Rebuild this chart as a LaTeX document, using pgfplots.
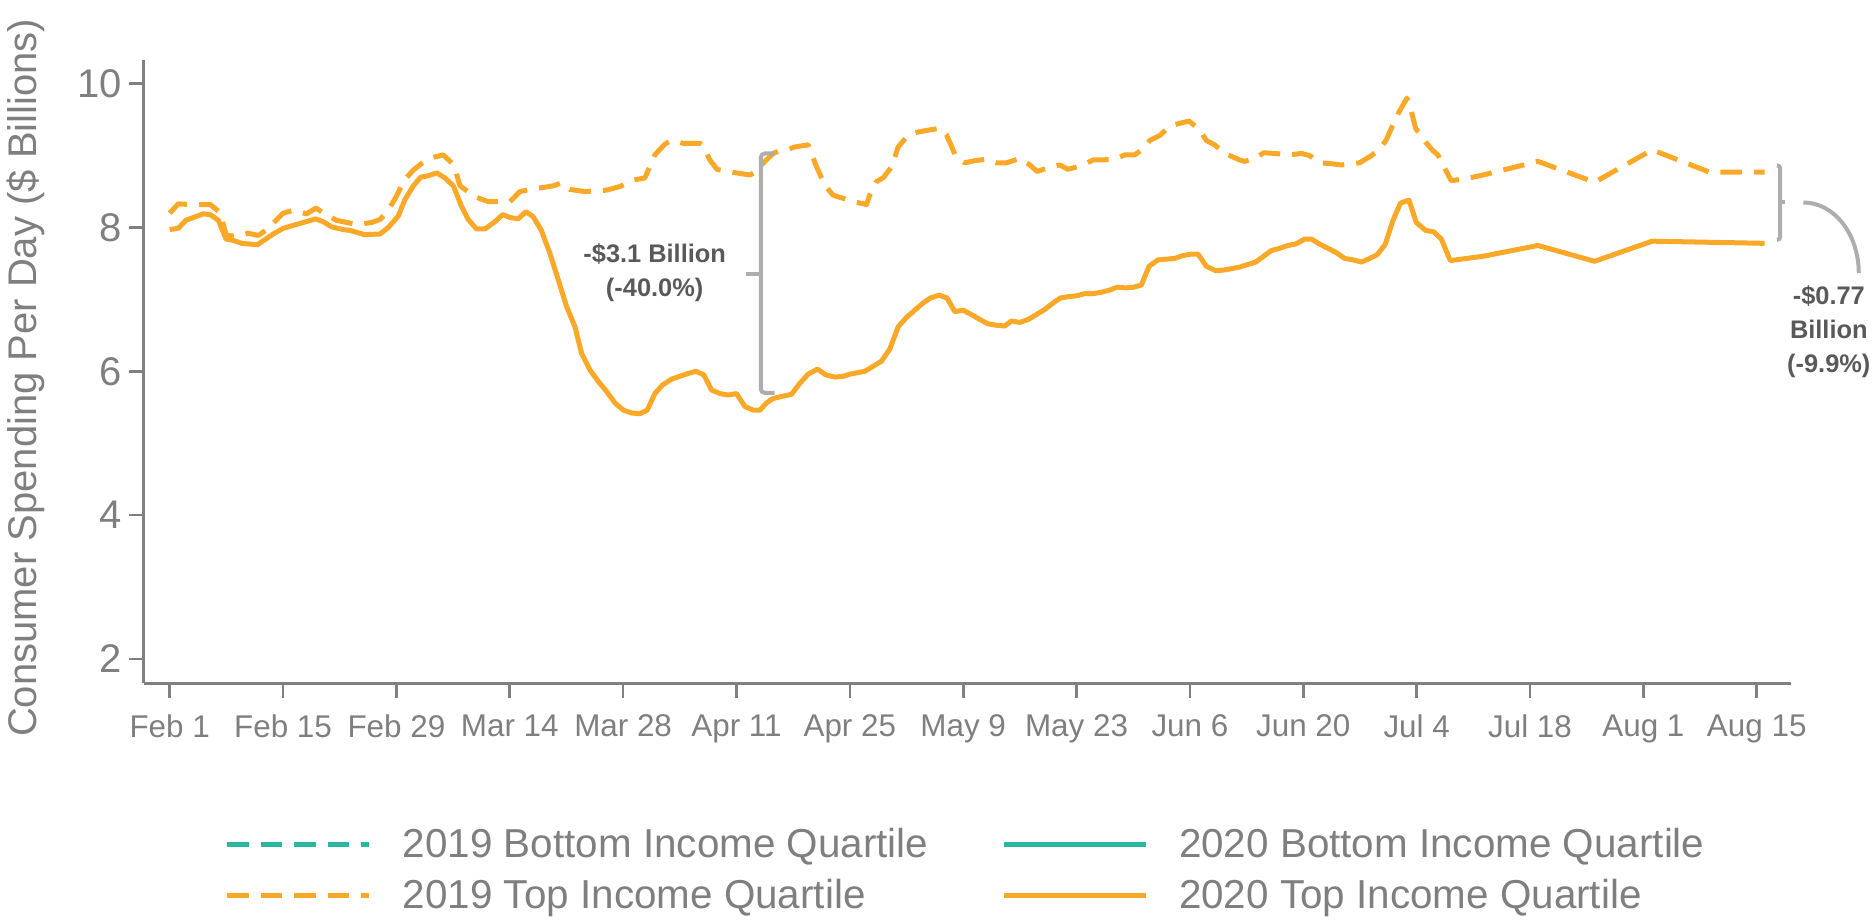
\documentclass[border=0pt]{standalone}
\usepackage{fontspec}
\setmainfont{Liberation Sans}
\usepackage{pgfplots}
\pgfplotsset{compat=1.18}
\definecolor{orng}{HTML}{F9A828}
\definecolor{tealc}{HTML}{2BB5A3}
\definecolor{axgray}{HTML}{808080}
\definecolor{txtgray}{HTML}{7F7F7F}
\definecolor{anngray}{HTML}{595959}
\definecolor{brgray}{HTML}{ADADAD}
\begin{document}
\begin{tikzpicture}
\useasboundingbox (0,0) rectangle (937.5pt,461pt);
\begin{axis}[
  at={(71.875pt,119.35pt)}, anchor=south west,
  scale only axis, width=823.5pt, height=311.65pt,
  xmin=-3.2, xmax=200.2, ymin=1.66, ymax=10.33,
  axis lines=left,
  axis line style={axgray, line width=1.3pt, -},
  tick style={axgray, line width=1.3pt},
  tick align=outside, major tick length=7.5pt,
  xtick={0,14,...,196},
  xticklabels={Feb 1,Feb 15,Feb 29,Mar 14,Mar 28,Apr 11,Apr 25,May 9,May 23,Jun 6,Jun 20,Jul 4,Jul 18,Aug 1,Aug 15},
  ytick={2,4,6,8,10},
  /pgf/number format/assume math mode=true,
  xticklabel style={font=\fontsize{15.7}{18}\selectfont, text=txtgray, yshift=-4.8pt},
  yticklabel style={font=\fontsize{20}{24}\selectfont, text=txtgray},
  ylabel={Consumer Spending Per Day (\$ Billions)},
  every axis y label/.style={at={(axis description cs:-0.0715,0.49)}, rotate=90, anchor=center, font=\fontsize{20}{24}\selectfont, text=txtgray},
  clip=false,
  legend columns=2,
  legend style={at={(axis description cs:0.0493,-0.2331)}, anchor=north west, draw=none, fill=none, inner sep=0pt, outer sep=0pt,
    font=\fontsize{20.2}{24}\selectfont, text=txtgray, row sep=9.2pt,
    nodes={inner sep=0pt}, cells={anchor=west},
    /tikz/every odd column/.append style={column sep=15.5pt},
    /tikz/every even column/.append style={column sep=36.3pt}},
  legend image code/.code={\path[draw=none,fill=none] (0pt,-8pt) -- (0pt,0pt); \draw[#1] (0pt,0pt) -- (71pt,0pt);},
]
\addlegendimage{tealc, line width=2.4pt, dash pattern=on 10.75pt off 6pt}
\addlegendentry{2019 Bottom Income Quartile}
\addlegendimage{tealc, line width=2.4pt}
\addlegendentry{2020 Bottom Income Quartile}
\addplot[orng, line width=2.5pt, dash pattern=on 10.75pt off 6pt, line join=round] coordinates {
(0.0,8.20) (1.08,8.33) (2.31,8.32) (3.96,8.32) (5.0,8.32) (6.22,8.21) (7.0,7.89) (8.0,7.88) (9.0,7.90) (9.72,7.92)
(10.95,7.89) (11.98,7.97) (13.22,8.11) (14.04,8.20) (15.28,8.24) (16.9,8.19) (18.07,8.27) (19.3,8.18) (20.6,8.10)
(23.2,8.04) (24.95,8.07) (25.97,8.11) (27.0,8.24) (27.83,8.40) (29.06,8.67) (30.1,8.80) (31.12,8.89) (32.35,8.97)
(33.79,9.01) (34.82,8.90) (35.36,8.77) (35.85,8.58) (37.09,8.48) (37.9,8.42) (39.35,8.36) (42.02,8.36) (43.26,8.50)
(44.5,8.53) (45.73,8.55) (47.37,8.58) (48.4,8.62) (49.43,8.53) (51.28,8.50) (53.96,8.52) (55.6,8.57) (57.25,8.66)
(58.69,8.69) (59.92,9.01) (61.16,9.16) (61.98,9.21) (63.42,9.17) (65.48,9.17) (65.97,9.13) (66.7,8.94) (67.6,8.81)
(68.77,8.78) (70.0,8.76) (71.65,8.73) (72.48,8.78) (73.5,8.92) (74.53,9.03) (75.36,9.07) (76.2,9.08) (77.2,9.12)
(78.85,9.15) (79.8,8.87) (80.5,8.69) (81.1,8.56) (81.94,8.45) (83.59,8.39) (84.82,8.35) (86.06,8.32) (86.67,8.52)
(87.29,8.64) (88.11,8.69) (89.14,8.84) (89.97,9.12) (91.0,9.26) (92.02,9.32) (93.46,9.35) (95.11,9.38) (95.93,9.29)
(96.55,9.13) (97.17,8.97) (98.2,8.90) (99.43,8.93) (100.87,8.95) (102.1,8.90) (103.34,8.90) (105.0,8.96) (106.22,8.87)
(107.13,8.78) (108.69,8.84) (109.92,8.87) (110.95,8.81) (112.6,8.86) (114.04,8.94) (115.07,8.94) (116.7,8.95)
(117.95,9.01) (119.18,9.01) (120.42,9.11) (121.03,9.21) (122.27,9.28) (123.5,9.41) (124.74,9.45) (125.9,9.48)
(127.2,9.36) (128.03,9.21) (129.06,9.15) (130.3,9.03) (132.15,8.94) (132.76,8.92) (134.2,8.97) (135.1,9.04)
(136.47,9.03) (138.3,9.01) (139.76,9.03) (140.8,9.00) (142.02,8.90) (143.26,8.89) (144.7,8.87) (146.96,8.90)
(148.4,9.00) (149.43,9.09) (150.25,9.22) (150.87,9.38) (151.69,9.58) (152.8,9.80) (153.2,9.68) (153.87,9.38)
(154.78,9.23) (156.0,9.07) (156.63,9.01) (157.33,8.85) (158.28,8.65) (160.54,8.69) (162.2,8.73) (168.98,8.92)
(175.97,8.63) (183.09,9.08) (190.17,8.77) (196.96,8.77)
};
\addlegendentry{2019 Top Income Quartile}
\addplot[orng, line width=2.5pt, line join=round] coordinates {
(0,7.97) (1.08,7.99) (2.0,8.10) (4.16,8.19) (5.0,8.18) (6.02,8.10) (6.96,7.84) (7.87,7.82) (8.9,7.78) (10.83,7.76)
(12.8,7.91) (14.04,7.99) (15.9,8.05) (18.03,8.12) (18.98,8.08) (20.0,8.01) (21.45,7.97) (22.27,7.96) (24.1,7.90)
(25.97,7.91) (27.0,8.00) (28.24,8.16) (29.06,8.39) (30.1,8.58) (31.0,8.70) (31.94,8.72) (32.97,8.76) (34.0,8.69)
(35.03,8.58) (36.06,8.29) (36.88,8.11) (37.9,7.98) (38.94,7.98) (40.17,8.08) (41.12,8.18) (42.0,8.14) (43.05,8.12)
(44.0,8.22) (44.9,8.15) (45.9,7.96) (46.96,7.64) (48.0,7.27) (49.02,6.90) (50.05,6.62) (50.87,6.25) (51.9,6.02)
(52.93,5.86) (53.96,5.72) (54.99,5.56) (56.02,5.46) (57.05,5.42) (58.07,5.41) (58.98,5.46) (59.92,5.69) (60.87,5.81)
(61.98,5.89) (63.0,5.93) (64.04,5.97) (64.99,6.00) (65.97,5.95) (66.92,5.74) (67.95,5.69) (68.98,5.67) (70.0,5.69)
(71.04,5.51) (72.07,5.46) (72.9,5.46) (73.71,5.56) (74.5,5.62) (75.56,5.65) (76.8,5.68) (77.8,5.83) (78.85,5.96)
(80.0,6.03) (81.03,5.95) (82.15,5.92) (83.17,5.93) (84.0,5.96) (85.85,6.00) (86.88,6.07) (87.9,6.14) (88.94,6.31)
(89.97,6.62) (91.0,6.75) (92.02,6.85) (93.05,6.95) (93.96,7.02) (95.03,7.06) (96.0,7.02) (96.96,6.83) (97.99,6.85)
(99.0,6.79) (100.05,6.72) (101.08,6.66) (102.1,6.64) (103.13,6.63) (103.96,6.70) (105.0,6.68) (106.0,6.72)
(107.05,6.79) (108.07,6.86) (109.1,6.95) (110.0,7.02) (111.1,7.04) (112.0,7.05) (113.0,7.08) (114.04,7.08)
(115.07,7.10) (116.1,7.13) (117.0,7.17) (118.07,7.16) (119.06,7.17) (120.0,7.20) (120.95,7.46) (122.06,7.55)
(123.1,7.56) (124.12,7.57) (125.15,7.61) (126.18,7.63) (127.0,7.63) (128.03,7.46) (129.18,7.40) (130.3,7.41)
(132.15,7.45) (134.12,7.52) (135.1,7.60) (136.05,7.68) (137.08,7.71) (138.1,7.75) (139.06,7.77) (140.17,7.84)
(141.0,7.84) (142.0,7.77) (143.05,7.71) (144.08,7.65) (145.1,7.57) (146.14,7.55) (147.2,7.52) (148.2,7.57)
(149.1,7.62) (150.1,7.76) (151.08,8.10) (152.0,8.34) (153.05,8.38) (153.96,8.07) (155.1,7.96) (156.1,7.94)
(157.04,7.84) (158.15,7.54) (162.2,7.60) (168.98,7.75) (175.97,7.53) (183.09,7.81) (196.96,7.78)
};
\addlegendentry{2020 Top Income Quartile}
% annotations
\draw[brgray, line width=2pt, rounded corners=2pt] (axis cs:74.7,9.03) -- (axis cs:73.0,9.03) -- (axis cs:73.0,5.70) -- (axis cs:74.7,5.70);
\draw[brgray, line width=2pt] (axis cs:73.0,7.36) -- (axis cs:71.2,7.36);
\node[font=\bfseries\fontsize{12.7}{17}\selectfont, text=anngray, align=center] at (axis cs:59.9,7.37) {-\$3.1 Billion\\(-40.0\%)};
\draw[brgray, line width=2pt, rounded corners=1.5pt] (axis cs:198.5,8.863) -- (axis cs:198.9,8.863) -- (axis cs:198.9,7.829) -- (axis cs:198.5,7.829);
\draw[brgray, line width=2pt] (axis cs:198.9,8.348) -- (axis cs:199.5,8.348);
\draw[brgray, line width=2pt] (axis cs:201.75,8.348) .. controls (axis cs:205.56,8.348) and (axis cs:208.6,7.908) .. (axis cs:208.6,7.365);
\node[font=\bfseries\fontsize{12.7}{17}\selectfont, text=anngray, align=center] at (axis cs:204.9,6.55) {-\$0.77\\Billion\\(-9.9\%)};
\end{axis}
\end{tikzpicture}
\end{document}
